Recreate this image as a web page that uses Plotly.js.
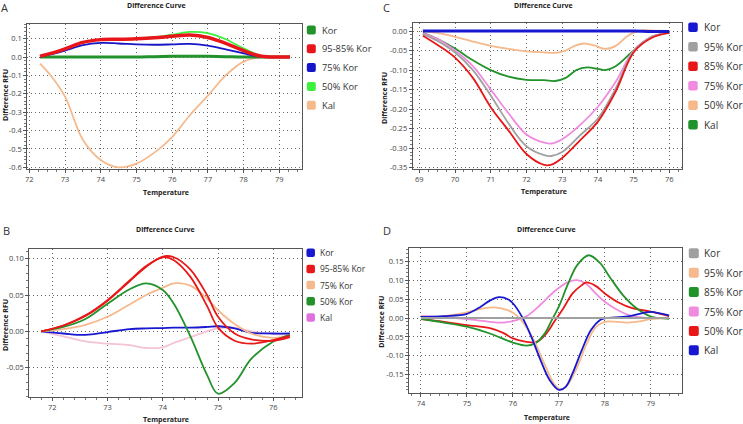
<!DOCTYPE html>
<html>
<head>
<meta charset="utf-8">
<script src="https://cdn.plot.ly/plotly-3.0.1.min.js"></script>
<style>html,body{margin:0;padding:0;background:#fff;}#chart{width:743px;height:424px;}</style>
</head>
<body>
<div id="chart"></div>
<script>
// ---------- DATA ----------
// Panel A
const A_x    = [72.3, 72.6, 73, 73.5, 74, 74.5, 75, 75.5, 76, 76.5, 77, 77.5, 78, 78.5, 79, 79.3];
const A_kor  = [0, 0, 0, 0, 0, 0, 0, 0.002, 0.004, 0.005, 0.004, 0.002, 0, 0, 0, 0];
const A_k9585= [0.005, 0.02, 0.045, 0.08, 0.095, 0.097, 0.1, 0.105, 0.113, 0.12, 0.107, 0.075, 0.035, 0.004, 0, 0];
const A_k75  = [0.003, 0.015, 0.035, 0.065, 0.077, 0.074, 0.069, 0.067, 0.069, 0.072, 0.062, 0.042, 0.02, 0.002, 0, 0];
const A_k50  = [0.005, 0.02, 0.045, 0.08, 0.095, 0.098, 0.1, 0.108, 0.122, 0.137, 0.13, 0.097, 0.047, 0.006, 0, 0];
const A_kal  = [-0.035, -0.1, -0.215, -0.45, -0.56, -0.6, -0.58, -0.52, -0.435, -0.315, -0.21, -0.1, -0.025, 0, 0, 0];
const A_names  = ['Kor', '95-85% Kor', '75% Kor', '50% Kor', 'Kal'];
const A_colors = ['#22922a', '#e8161b', '#1616c8', '#3cf03c', '#f5b98c'];
const A_xticks = [72, 73, 74, 75, 76, 77, 78, 79];
const A_yticks = [0.1, 0, -0.1, -0.2, -0.3, -0.4, -0.5, -0.6];
const A_ytext  = ['0.1', '0.0', '-0.1', '-0.2', '-0.3', '-0.4', '-0.5', '-0.6'];

// Panel C
const C_x    = [69.1, 69.5, 70, 70.5, 71, 71.5, 72, 72.5, 72.7, 73, 73.5, 74, 74.5, 75, 75.5, 76];
const C_kor  = [0, 0, 0, 0, 0, 0, 0, 0, 0, 0, 0, 0, 0, 0, -0.001, -0.001];
const C_k95  = [-0.008, -0.025, -0.055, -0.1, -0.165, -0.237, -0.295, -0.318, -0.32, -0.31, -0.267, -0.224, -0.147, -0.052, -0.016, -0.004];
const C_k85  = [-0.012, -0.035, -0.068, -0.12, -0.195, -0.255, -0.315, -0.343, -0.342, -0.325, -0.28, -0.232, -0.155, -0.055, -0.018, -0.005];
const C_k75  = [-0.006, -0.02, -0.05, -0.09, -0.15, -0.211, -0.265, -0.286, -0.288, -0.277, -0.241, -0.194, -0.13, -0.05, -0.015, -0.004];
const C_gx   = [69.1, 69.5, 70, 70.5, 71, 71.5, 72, 72.5, 72.8, 73.1, 73.4, 73.7, 74, 74.2, 74.5, 75, 75.5, 76];
const C_kal  = [-0.005, -0.02, -0.045, -0.075, -0.1, -0.117, -0.125, -0.126, -0.128, -0.12, -0.1, -0.093, -0.097, -0.1, -0.09, -0.05, -0.015, -0.004];
const C_ox   = [69.1, 69.5, 70, 70.5, 71, 71.5, 72, 72.5, 72.8, 73.1, 73.35, 73.6, 73.9, 74.2, 74.5, 74.8, 75, 75.3, 75.6, 76];
const C_k50  = [0, -0.005, -0.015, -0.027, -0.038, -0.046, -0.052, -0.055, -0.056, -0.05, -0.038, -0.032, -0.037, -0.046, -0.038, -0.015, -0.004, 0.002, 0.001, 0];
const C_names  = ['Kor', '95% Kor', '85% Kor', '75% Kor', '50% Kor', 'Kal'];
const C_colors = ['#1818d0', '#a0a0a0', '#e81818', '#f08ce0', '#f5b98c', '#22922a'];
const C_xticks = [69, 70, 71, 72, 73, 74, 75, 76];
const C_yticks = [0, -0.05, -0.1, -0.15, -0.2, -0.25, -0.3, -0.35];
const C_ytext  = ['0.00', '-0.05', '-0.10', '-0.15', '-0.20', '-0.25', '-0.30', '-0.35'];

// Panel B
const B_x    = [71.8, 72.2, 72.6, 73, 73.4, 73.7, 74, 74.2, 74.5, 74.8, 75, 75.3, 75.6, 76, 76.3];
const B_kor  = [0, -0.003, -0.005, -0.001, 0.003, 0.004, 0.0045, 0.005, 0.005, 0.006, 0.007, 0.004, -0.002, -0.003, -0.003];
const B_k95  = [0, 0.008, 0.022, 0.043, 0.07, 0.09, 0.102, 0.098, 0.075, 0.035, 0.005, -0.013, -0.017, -0.012, -0.006];
const B_k85  = [0, 0.008, 0.021, 0.042, 0.069, 0.089, 0.103, 0.102, 0.085, 0.05, 0.02, -0.003, -0.011, -0.013, -0.008];
const B_k75  = [0, 0.003, 0.009, 0.02, 0.037, 0.05, 0.06, 0.066, 0.063, 0.045, 0.029, 0.01, -0.003, -0.009, -0.006];
const B_k50  = [0, 0.006, 0.017, 0.038, 0.058, 0.066, 0.057, 0.038, -0.007, -0.06, -0.086, -0.071, -0.038, -0.014, -0.005];
const B_kal  = [0, -0.007, -0.014, -0.017, -0.019, -0.023, -0.022, -0.016, -0.008, 0.0, 0.004, 0.005, 0.0, -0.004, -0.005];
const B_names  = ['Kor', '95-85% Kor', '75% Kor', '50% Kor', 'Kal'];
const B_colors = ['#1818d0', '#e81818', '#f5b98c', '#22922a', '#e070e0'];
const B_kalLine = '#f5c3d6';
const B_xticks = [72, 73, 74, 75, 76];
const B_yticks = [0.1, 0.05, 0, -0.05];
const B_ytext  = ['0.10', '0.05', '0.00', '-0.05'];

// Panel D
const D_x    = [74, 74.5, 75, 75.3, 75.5, 75.7, 75.9, 76, 76.2, 76.4, 76.6, 76.8, 77, 77.15, 77.3, 77.5, 77.7, 77.9, 78, 78.5, 79, 79.2, 79.4];
const D_kal  = [0.003, 0.005, 0.011, 0.03, 0.046, 0.055, 0.049, 0.039, 0.003, -0.049, -0.111, -0.164, -0.19, -0.182, -0.146, -0.085, -0.032, -0.005, -0.001, 0.004, 0.016, 0.012, 0.007];
const D_korx = [74, 79.4];
const D_kor  = [0, 0];
const D_ox   = [74, 74.5, 75, 75.3, 75.6, 75.9, 76.1, 76.3, 76.5, 76.7, 76.9, 77.05, 77.2, 77.4, 77.6, 77.8, 78, 78.5, 78.8, 79, 79.4];
const D_k95  = [0, 0.005, 0.015, 0.024, 0.028, 0.02, 0.005, -0.025, -0.07, -0.125, -0.175, -0.19, -0.175, -0.13, -0.07, -0.025, -0.01, -0.012, -0.008, -0.003, 0];
const D_gx   = [74, 74.5, 75, 75.5, 76, 76.3, 76.5, 76.7, 76.85, 77, 77.2, 77.4, 77.65, 77.9, 78.1, 78.4, 78.7, 79, 79.4];
const D_k85  = [-0.002, -0.012, -0.023, -0.041, -0.065, -0.073, -0.066, -0.04, -0.005, 0.03, 0.09, 0.14, 0.166, 0.145, 0.11, 0.06, 0.025, 0.004, -0.002];
const D_px   = [74, 74.5, 75, 75.5, 75.8, 76, 76.3, 76.6, 76.9, 77.2, 77.4, 77.6, 77.8, 78, 78.3, 78.6, 79, 79.4];
const D_k75  = [0.005, 0.002, -0.003, -0.01, -0.012, -0.008, 0.005, 0.035, 0.07, 0.095, 0.1, 0.09, 0.065, 0.043, 0.02, 0.005, 0, 0];
const D_rx   = [74, 74.5, 75, 75.5, 75.8, 76, 76.3, 76.5, 76.7, 76.9, 77.1, 77.3, 77.5, 77.6, 77.8, 78, 78.3, 78.6, 79, 79.4];
const D_k50  = [-0.003, -0.01, -0.019, -0.027, -0.04, -0.054, -0.063, -0.064, -0.045, -0.01, 0.026, 0.065, 0.087, 0.094, 0.085, 0.065, 0.041, 0.026, 0.017, 0.005];
const D_names  = ['Kor', '95% Kor', '85% Kor', '75% Kor', '50% Kor', 'Kal'];
const D_colors = ['#a0a0a0', '#f5b98c', '#22922a', '#f08ce0', '#e81818', '#1818d0'];
const D_xticks = [74, 75, 76, 77, 78, 79];
const D_yticks = [0.15, 0.1, 0.05, 0, -0.05, -0.1, -0.15];
const D_ytext  = ['0.15', '0.10', '0.05', '0.00', '-0.05', '-0.10', '-0.15'];

const TITLE = 'Difference Curve';
const XTITLE = 'Temperature';
const YTITLE = 'Difference RFU';

// ---------- BUILD ----------
const W = 743, H = 424;
const px = v => v / W;
const py = v => 1 - v / H;

function line(x, y, color, width, n) {
  return {x: x, y: y, type: 'scatter', mode: 'lines', xaxis: 'x' + n, yaxis: 'y' + n,
          line: {color: color, width: width, shape: 'spline', smoothing: 1}, hoverinfo: 'skip', showlegend: false};
}
const traces = [
  // A
  line(A_x, A_kal, A_colors[4], 1.8, ''),
  line(A_x, A_kor, A_colors[0], 3, ''),
  line(A_x, A_k75, A_colors[2], 1.8, ''),
  line(A_x, A_k50, A_colors[3], 1.8, ''),
  line(A_x, A_k9585, A_colors[1], 3.5, ''),
  // C
  line(C_ox, C_k50, C_colors[4], 1.8, 2),
  line(C_gx, C_kal, C_colors[5], 1.8, 2),
  line(C_x, C_k75, C_colors[3], 1.8, 2),
  line(C_x, C_k95, C_colors[1], 1.8, 2),
  line(C_x, C_k85, C_colors[2], 1.8, 2),
  line(C_x, C_kor, C_colors[0], 3, 2),
  // B
  line(B_x, B_kal, B_kalLine, 1.8, 3),
  line(B_x, B_kor, B_colors[0], 1.8, 3),
  line(B_x, B_k75, B_colors[2], 1.8, 3),
  line(B_x, B_k50, B_colors[3], 1.8, 3),
  line(B_x, B_k95, B_colors[1], 1.8, 3),
  line(B_x, B_k85, B_colors[1], 1.8, 3),
  // D
  line(D_px, D_k75, D_colors[3], 1.8, 4),
  line(D_rx, D_k50, D_colors[4], 1.8, 4),
  line(D_gx, D_k85, D_colors[2], 1.8, 4),
  line(D_ox, D_k95, D_colors[1], 1.8, 4),
  line(D_x, D_kal, D_colors[5], 1.8, 4),
  line(D_korx, D_kor, D_colors[0], 2, 4)
];

const tickFont = {family: 'Open Sans, sans-serif', size: 7.5, color: '#444'};
function xax(domain, range, ticks, minor) {
  return {domain: domain, range: range, tickvals: ticks, ticktext: ticks.map(String),
    showgrid: true, gridcolor: '#666', griddash: '1px,3px', gridwidth: 1,
    zeroline: false, showline: true, linecolor: '#555', linewidth: 1, mirror: true,
    ticks: 'outside', ticklen: 3, tickcolor: '#555', tickfont: tickFont,
    minor: {dtick: minor, ticks: 'outside', ticklen: 2, tickcolor: '#777', showgrid: false},
    fixedrange: true};
}
function yax(domain, range, ticks, text, minor, anchor) {
  const a = xax(domain, range, ticks, minor);
  a.ticktext = text; a.anchor = anchor;
  return a;
}

const layout = {
  width: W, height: H, margin: {l: 0, r: 0, t: 0, b: 0},
  paper_bgcolor: '#fff', plot_bgcolor: '#fff', showlegend: false,
  xaxis:  Object.assign(xax([px(27.3), px(302.3)], [71.944, 79.644], A_xticks, 0.25), {anchor: 'y'}),
  yaxis:  yax([py(169), py(24)], [-0.609, 0.18], A_yticks, A_ytext, 0.02, 'x'),
  xaxis2: Object.assign(xax([px(412.7), px(682.3)], [68.815, 76.364], C_xticks, 0.25), {anchor: 'y2'}),
  yaxis2: yax([py(169), py(23.3)], [-0.3533, 0.0197], C_yticks, C_ytext, 0.01, 'x2'),
  xaxis3: Object.assign(xax([px(29.3), px(301.7)], [71.584, 76.514], B_xticks, 0.2), {anchor: 'y3'}),
  yaxis3: yax([py(397.3), py(249)], [-0.0909, 0.1134], B_yticks, B_ytext, 0.01, 'x3'),
  xaxis4: Object.assign(xax([px(409), px(681.7)], [73.739, 79.675], D_xticks, 0.2), {anchor: 'y4'}),
  yaxis4: yax([py(393.3), py(248.3)], [-0.1992, 0.1844], D_yticks, D_ytext, 0.01, 'x4'),
  annotations: [], shapes: []
};

function ann(text, x, y, opts) {
  layout.annotations.push(Object.assign({text: text, xref: 'paper', yref: 'paper', x: px(x), y: py(y),
    xanchor: 'center', yanchor: 'middle', showarrow: false, borderpad: 0,
    font: {family: 'Open Sans, sans-serif', size: 7, color: '#222', weight: 'bold'}}, opts || {}));
}
const letterFont = {family: 'Open Sans, sans-serif', size: 11, color: '#333'};
// panel titles
ann(TITLE, 156.7, 5); ann(TITLE, 543.3, 5); ann(TITLE, 165, 229.3); ann(TITLE, 546.7, 229.3);
// x titles
ann(XTITLE, 165.7, 192.3); ann(XTITLE, 544, 191); ann(XTITLE, 165.7, 419.5); ann(XTITLE, 546.7, 417.7);
// y titles
ann(YTITLE, 5, 95, {textangle: -90}); ann(YTITLE, 384.5, 97.5, {textangle: -90});
ann(YTITLE, 5, 325, {textangle: -90}); ann(YTITLE, 382, 321.7, {textangle: -90});
// panel letters
ann('A', 4.5, 8, {font: letterFont}); ann('C', 386, 8, {font: letterFont});
ann('B', 6, 230.5, {font: letterFont}); ann('D', 386.7, 230, {font: letterFont});

function roundSq(cx, cy, s, r, color) {
  const x0 = cx - s / 2, x1 = cx + s / 2, y0 = cy - s / 2, y1 = cy + s / 2;
  const P = (x, y) => px(x).toFixed(5) + ',' + py(y).toFixed(5);
  const d = 'M' + P(x0 + r, y0) + ' L' + P(x1 - r, y0) + ' Q' + P(x1, y0) + ' ' + P(x1, y0 + r) +
            ' L' + P(x1, y1 - r) + ' Q' + P(x1, y1) + ' ' + P(x1 - r, y1) +
            ' L' + P(x0 + r, y1) + ' Q' + P(x0, y1) + ' ' + P(x0, y1 - r) +
            ' L' + P(x0, y0 + r) + ' Q' + P(x0, y0) + ' ' + P(x0 + r, y0) + ' Z';
  layout.shapes.push({type: 'path', path: d, xref: 'paper', yref: 'paper', fillcolor: color, line: {width: 0}});
}
function legend(names, colors, sqx, tx, y0, dy, size, fs) {
  names.forEach((n, i) => {
    const y = y0 + i * dy;
    roundSq(sqx, y, size, 2, colors[i]);
    ann(n, tx, y, {xanchor: 'left', font: {family: 'Open Sans, sans-serif', size: fs, color: '#333'}});
  });
}
legend(A_names, A_colors, 311.3, 321, 30, 18.8, 9, 9.3);
legend(C_names, C_colors, 693, 702.5, 27.3, 19.5, 9.5, 10);
legend(B_names, B_colors, 310.7, 318.5, 252.7, 16.2, 8.5, 8.5);
legend(D_names, D_colors, 693.8, 703.2, 253.3, 19.4, 10, 10);

Plotly.newPlot('chart', traces, layout, {staticPlot: true, displayModeBar: false});
</script>
</body>
</html>
